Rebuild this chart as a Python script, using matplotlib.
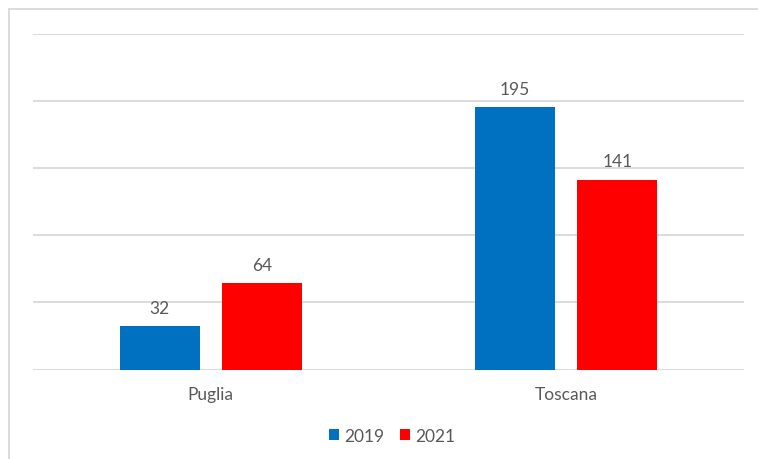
import numpy as np
import matplotlib.pyplot as plt
from matplotlib.patches import Rectangle

# data
regions = ['Puglia', 'Toscana']
years = ['2019', '2021']
vals_2019 = [32, 195]
vals_2021 = [64, 141]
colors = ['#0070C0', '#FF0000']

plt.rcParams['font.family'] = ['Lato', 'DejaVu Sans']
txt_col = '#595959'
fs = 12.5

fig = plt.figure(figsize=(7.58, 4.6), dpi=100)
ax = fig.add_axes([33 / 758, 89.5 / 460, 711 / 758, 336 / 460])

x = np.arange(len(regions))
w = 0.225
off = 0.1435
b1 = ax.bar(x - off, vals_2019, w, color=colors[0], label=years[0], zorder=3)
b2 = ax.bar(x + off, vals_2021, w, color=colors[1], label=years[1], zorder=3)

for bars in (b1, b2):
    for r in bars:
        ax.text(r.get_x() + r.get_width() / 2, r.get_height() + 8, str(int(r.get_height())),
                ha='center', va='bottom', fontsize=fs, color=txt_col)

ax.set_xlim(-0.5, 1.5)
ax.set_ylim(0, 250)
ax.set_yticks(np.arange(0, 251, 50))
ax.yaxis.grid(True, color='#D9D9D9', lw=1.3, zorder=0)
ax.set_yticklabels([])
ax.tick_params(axis='y', length=0)
ax.set_xticks(x)
ax.set_xticklabels(regions, fontsize=fs, color=txt_col)
ax.tick_params(axis='x', length=0, pad=12)
for s in ax.spines.values():
    s.set_visible(False)

leg = fig.legend(handles=[b1, b2], labels=years, loc='center', bbox_to_anchor=(392 / 758, 23 / 460),
                 ncol=2, frameon=False, fontsize=fs, handlelength=0.6, handleheight=0.6,
                 handletextpad=0.3, columnspacing=0.9)
for t in leg.get_texts():
    t.set_color(txt_col)

# chart border (left and top edges visible)
fig.patches.append(Rectangle((8.5 / 758, -0.1), 1.2, (450 / 460) + 0.1, transform=fig.transFigure,
                             fill=False, edgecolor='#D9D9D9', lw=1.3))

fig.savefig('out.png', dpi=100)
